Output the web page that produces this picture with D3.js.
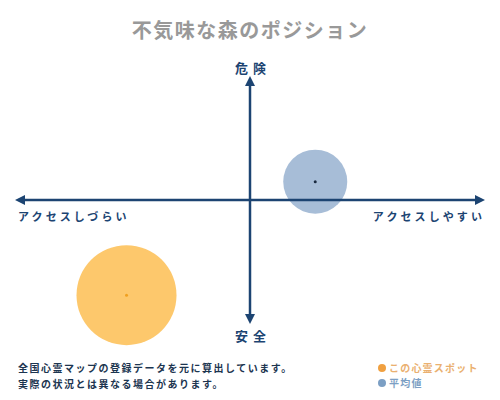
<!DOCTYPE html>
<html>
<head>
<meta charset="utf-8">
<script src="https://cdn.jsdelivr.net/npm/d3@7"></script>
<style>
  body { margin: 0; background: #fff; }
  text { font-family: "Noto Sans CJK JP", sans-serif; }
</style>
</head>
<body>
<div id="chart"></div>
<script>
// position of each spot on the two axes (-5 .. 5), and the bubble size
const names = ["平均値", "この心霊スポット"];
const accessValues = [1.4, -2.65];   // left: hard to access, right: easy
const dangerValues = [0.75, -3.9];   // up: danger, down: safe
const sizeValues = [41, 100];
const fillColors = ["#a7bdd7", "#fdc86c"];
const dotColors = ["#1a2a40", "#f0a020"];

const axisLabels = { top: "危 険", bottom: "安 全", left: "アクセスしづらい", right: "アクセスしやすい" };
const noteLines = ["全国心霊マップの登録データを元に算出しています。", "実際の状況とは異なる場合があります。"];
const legendItems = [
    { label: "この心霊スポット", color: "#f0a040", text: "#eab070" },
    { label: "平均値", color: "#7c9fc4", text: "#7c9fc4" }
];

const width = 500, height = 400;
const navy = "#1c4472";

let svg = d3.select("#chart")
    .append("svg")
    .attr("width", width)
    .attr("height", height);

let x = d3.scaleLinear().domain([-5, 5]).range([17, 483]);
let y = d3.scaleLinear().domain([-5, 5]).range([322, 78]);
let r = d3.scaleSqrt().domain([0, 100]).range([0, 50]);

// title
svg.append("text")
    .attr("x", 250)
    .attr("y", 38)
    .attr("text-anchor", "middle")
    .attr("font-size", 20)
    .attr("font-weight", "bold")
    .attr("letter-spacing", 1.5)
    .attr("fill", "#999")
    .text("不気味な森のポジション");

// arrow heads
let defs = svg.append("defs");
defs.append("marker")
    .attr("id", "arrow")
    .attr("viewBox", "0 0 10 10")
    .attr("refX", 5)
    .attr("refY", 5)
    .attr("markerWidth", 4)
    .attr("markerHeight", 4)
    .attr("orient", "auto-start-reverse")
    .append("path")
    .attr("d", "M0,0 L10,5 L0,10 Z")
    .attr("fill", navy);

let bubbles = names.map((n, i) => ({
    name: n, ax: accessValues[i], dg: dangerValues[i],
    size: sizeValues[i], fill: fillColors[i], dot: dotColors[i]
}));

// bubbles under the axes
svg.selectAll("circle.bubble")
    .data(bubbles)
    .enter().append("circle")
    .attr("class", "bubble")
    .attr("cx", d => x(d.ax))
    .attr("cy", d => y(d.dg))
    .attr("r", d => r(d.size))
    .attr("fill", d => d.fill);

svg.append("line")
    .attr("x1", x(-5) + 3).attr("x2", x(5) - 3)
    .attr("y1", y(0)).attr("y2", y(0))
    .attr("stroke", navy)
    .attr("stroke-width", 2.5)
    .attr("marker-start", "url(#arrow)")
    .attr("marker-end", "url(#arrow)");

svg.append("line")
    .attr("x1", x(0)).attr("x2", x(0))
    .attr("y1", y(-5) - 3).attr("y2", y(5) + 3)
    .attr("stroke", navy)
    .attr("stroke-width", 2.5)
    .attr("marker-start", "url(#arrow)")
    .attr("marker-end", "url(#arrow)");

svg.selectAll("circle.center")
    .data(bubbles)
    .enter().append("circle")
    .attr("class", "center")
    .attr("cx", d => x(d.ax))
    .attr("cy", d => y(d.dg))
    .attr("r", 1.5)
    .attr("fill", d => d.dot);

// axis labels
let lbl = (txt, px, py, anchor, size, spacing) => svg.append("text")
    .attr("x", px).attr("y", py)
    .attr("text-anchor", anchor)
    .attr("font-size", size)
    .attr("font-weight", "bold")
    .attr("letter-spacing", spacing)
    .attr("fill", navy)
    .text(txt);

lbl(axisLabels.top, 251, 73, "middle", 13, 1);
lbl(axisLabels.bottom, 251, 341, "middle", 13, 1);
lbl(axisLabels.left, 18, 221, "start", 11, 3.1);
lbl(axisLabels.right, 485, 221, "end", 11, 3.1);

// note
svg.selectAll("text.note")
    .data(noteLines)
    .enter().append("text")
    .attr("class", "note")
    .attr("x", 18)
    .attr("y", (d, i) => 372 + i * 16)
    .attr("font-size", 10)
    .attr("font-weight", "bold")
    .attr("letter-spacing", 1.5)
    .attr("fill", "#1c3550")
    .text(d => d);

// legend
let leg = svg.selectAll("g.legend")
    .data(legendItems)
    .enter().append("g")
    .attr("class", "legend")
    .attr("transform", (d, i) => "translate(382," + (368 + i * 15) + ")");

leg.append("circle")
    .attr("r", 4)
    .attr("fill", d => d.color);

leg.append("text")
    .attr("x", 7)
    .attr("y", 4)
    .attr("font-size", 10)
    .attr("font-weight", "bold")
    .attr("letter-spacing", 1.2)
    .attr("fill", d => d.text)
    .text(d => d.label);
</script>
</body>
</html>
